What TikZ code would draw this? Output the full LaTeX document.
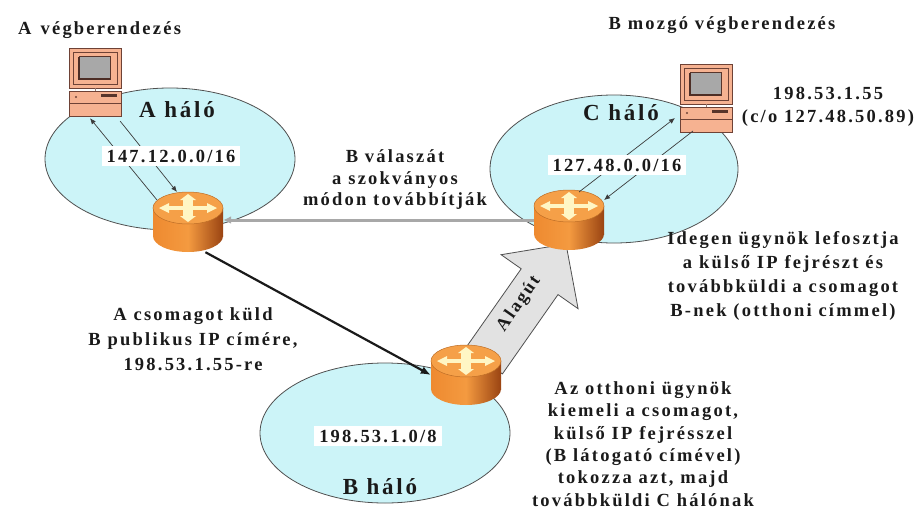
\documentclass[tikz,border=0pt]{standalone}
\usepackage{fontspec}
\setmainfont{Liberation Serif}[LetterSpace=12]
\usetikzlibrary{arrows.meta,calc}
\definecolor{netfill}{HTML}{CCF4F8}
\definecolor{netline}{HTML}{505050}
\definecolor{ink}{HTML}{1A1A1A}
\definecolor{pcbody}{HTML}{F6B291}
\definecolor{pcline}{HTML}{6E4236}
\definecolor{screen}{HTML}{A8A8A8}
\definecolor{rtop}{HTML}{F5A048}
\definecolor{rleft}{HTML}{EE8A30}
\definecolor{rmid}{HTML}{F49A40}
\definecolor{rright}{HTML}{9A4412}
\definecolor{cream}{HTML}{FFF6C4}
\definecolor{tunnel}{HTML}{E2E2E2}
\definecolor{reply}{HTML}{A8A8A8}
\begin{document}
\begin{tikzpicture}[x=1pt,y=-1pt,
  net/.style={draw=netline,fill=netfill,line width=0.8pt},
  txt/.style={font=\fontsize{18.5}{23.5}\selectfont\bfseries,align=center,text=ink,inner sep=0pt},
  netname/.style={font=\fontsize{23}{26}\selectfont\bfseries,text=ink,inner sep=0pt},
  ipbox/.style={fill=white,font=\fontsize{18.5}{22}\selectfont\bfseries,text=ink,inner xsep=5pt,inner ysep=4pt},
  hit/.style={minimum width=70pt,minimum height=60pt,inner sep=0pt},
  pcbox/.style={minimum width=52pt,minimum height=68pt,inner sep=0pt},
  thin/.style={draw=ink!85,line width=0.7pt,-{Latex[length=6pt,width=5pt]}},
  computer/.pic={
    % monitor housing
    \filldraw[fill=pcbody,draw=pcline,line width=0.8pt] (-26,-34) rectangle (26,6);
    \draw[pcline,line width=0.6pt] (-22,-30) rectangle (22,2);
    \filldraw[fill=screen,draw=pcline!80!black,line width=1pt] (-16,-25) rectangle (15,-3);
    \draw[pcline!70!black,line width=1.4pt] (-16,-25) -- (-16,-3) -- (15,-3);
    % base unit
    \filldraw[fill=pcbody,draw=pcline,line width=0.8pt] (-26,9) rectangle (26,34);
    \draw[pcline,line width=0.6pt] (-26,21) -- (26,21);
    \fill[pcline!80!black] (6,12) rectangle (22,14.5);
    \draw[pcline,line width=0.6pt] (-26,9) -- (26,9);
    \fill[pcline] (-19,15) circle (1.2);
    \draw[pcline!70,line width=0.6pt] (0,6) -- (0,9);
  },
  router/.pic={
    % cylinder side
    \shade[left color=rleft,right color=rright,middle color=rmid] (-35,-14) rectangle (35,14);
    \shade[left color=rleft,right color=rright,middle color=rmid] (0,14) ellipse [x radius=35,y radius=16];
    % top face
    \filldraw[fill=rtop,draw=rleft!80!black,line width=0.5pt] (0,-14) ellipse [x radius=35,y radius=16];
    % four-way arrows
    \begin{scope}[shift={(0,-14)}]
      \fill[cream] (-4,-3.2) rectangle (4,3.2);
      \fill[cream] (-20,-2.2) rectangle (20,2.2);
      \fill[cream] (-5,-9) rectangle (5,9);
      \fill[cream] (-29,0) -- (-19,-5) -- (-19,5) -- cycle;
      \fill[cream] (29,0) -- (19,-5) -- (19,5) -- cycle;
      \fill[cream] (0,-14) -- (-8,-8) -- (8,-8) -- cycle;
      \fill[cream] (0,14) -- (-8,8) -- (8,8) -- cycle;
    \end{scope}
  }]
\useasboundingbox (0,0) rectangle (918,511);

% networks
\draw[net] (170,159) ellipse [x radius=125,y radius=71];
\draw[net] (614,169) ellipse [x radius=124,y radius=74];
\draw[net] (385,433) ellipse [x radius=125,y radius=70];

% hosts and routers (placeholders for naming)
\node[pcbox] (cA) at (95,82) {};
\node[pcbox] (cB) at (706,98) {};
\node[hit] (rA) at (188,222) {};
\node[hit] (rC) at (569,220) {};
\node[hit] (rB) at (466,375) {};

% tunnel arrow from home agent to foreign agent
\filldraw[fill=tunnel,draw=netline,line width=0.8pt,line join=miter]
  (465.6,348.1) -- (521.2,268.8) -- (501.1,254.7) -- (566,244) -- (578.1,308.7)
  -- (558.0,294.6) -- (502.4,373.9) -- cycle;
\node[font=\fontsize{18}{20}\selectfont\bfseries,text=ink,rotate=55] (tun) at (519,304) {Alagút};

% reply path, normal routing
\draw[reply,line width=3pt,-{Latex[length=8pt,width=8pt]}] (rC.west) -- (rC.west -| rA.east);
% packet to B's public address
\draw[ink,line width=2.2pt,-{Latex[length=10pt,width=8pt]}] (rA.300) -- (rB.west);

% devices
\pic at (cA) {computer};
\pic at (cB) {computer};
\pic at (rA) {router};
\pic at (rC) {router};
\pic at (rB) {router};

% traffic inside the networks
\draw[thin] ($(rA)+(-31,-22)$) -- ($(cA.south)+(-5,2)$);
\draw[thin] ($(cA.south east)+(-1,5)$) -- ($(rA)+(-11,-30)$);
\draw[thin] ($(rC)+(10,-28)$) -- ($(cB)+(-31,20)$);
\draw[thin] ($(cB)+(-13,33)$) -- ($(rC)+(35,-20)$);

% address labels
\node[ipbox] (ipA) at (171,156) {147.12.0.0/16};
\node[ipbox] (ipC) at (617,165) {127.48.0.0/16};
\node[ipbox] (ipB) at (378,436) {198.53.1.0/8};

% network names
\node[netname] (nA) at (177,110) {A háló};
\node[netname] (nC) at (621,113) {C háló};
\node[netname] (nB) at (380,487) {B háló};

% captions
\node[txt] (tA) at (99.5,30) {A\enspace végberendezés};
\node[txt] (tB) at (722,25) {B mozgó végberendezés};
\node[txt] (addrB) at (828,107) {198.53.1.55\\(c/o 127.48.50.89)};
\node[txt,font=\fontsize{18.5}{21.5}\selectfont\bfseries] (tReply) at (395,180) {B válaszát\\a szokványos\\módon továbbítják};
\node[txt,font=\fontsize{18.5}{25}\selectfont\bfseries] (tSend) at (193,339) {A csomagot küld\\B publikus IP címére,\\198.53.1.55-re};
\node[txt,font=\fontsize{18.5}{24}\selectfont\bfseries] (tFA) at (783,276) {Idegen ügynök lefosztja\\a külső IP fejrészt és\\továbbküldi a csomagot\\B-nek (otthoni címmel)};
\node[txt,font=\fontsize{18.5}{22.4}\selectfont\bfseries] (tHA) at (643,444) {Az otthoni ügynök\\kiemeli a csomagot,\\külső IP fejrésszel\\(B látogató címével)\\tokozza azt, majd\\továbbküldi C hálónak};
\end{tikzpicture}
\end{document}
